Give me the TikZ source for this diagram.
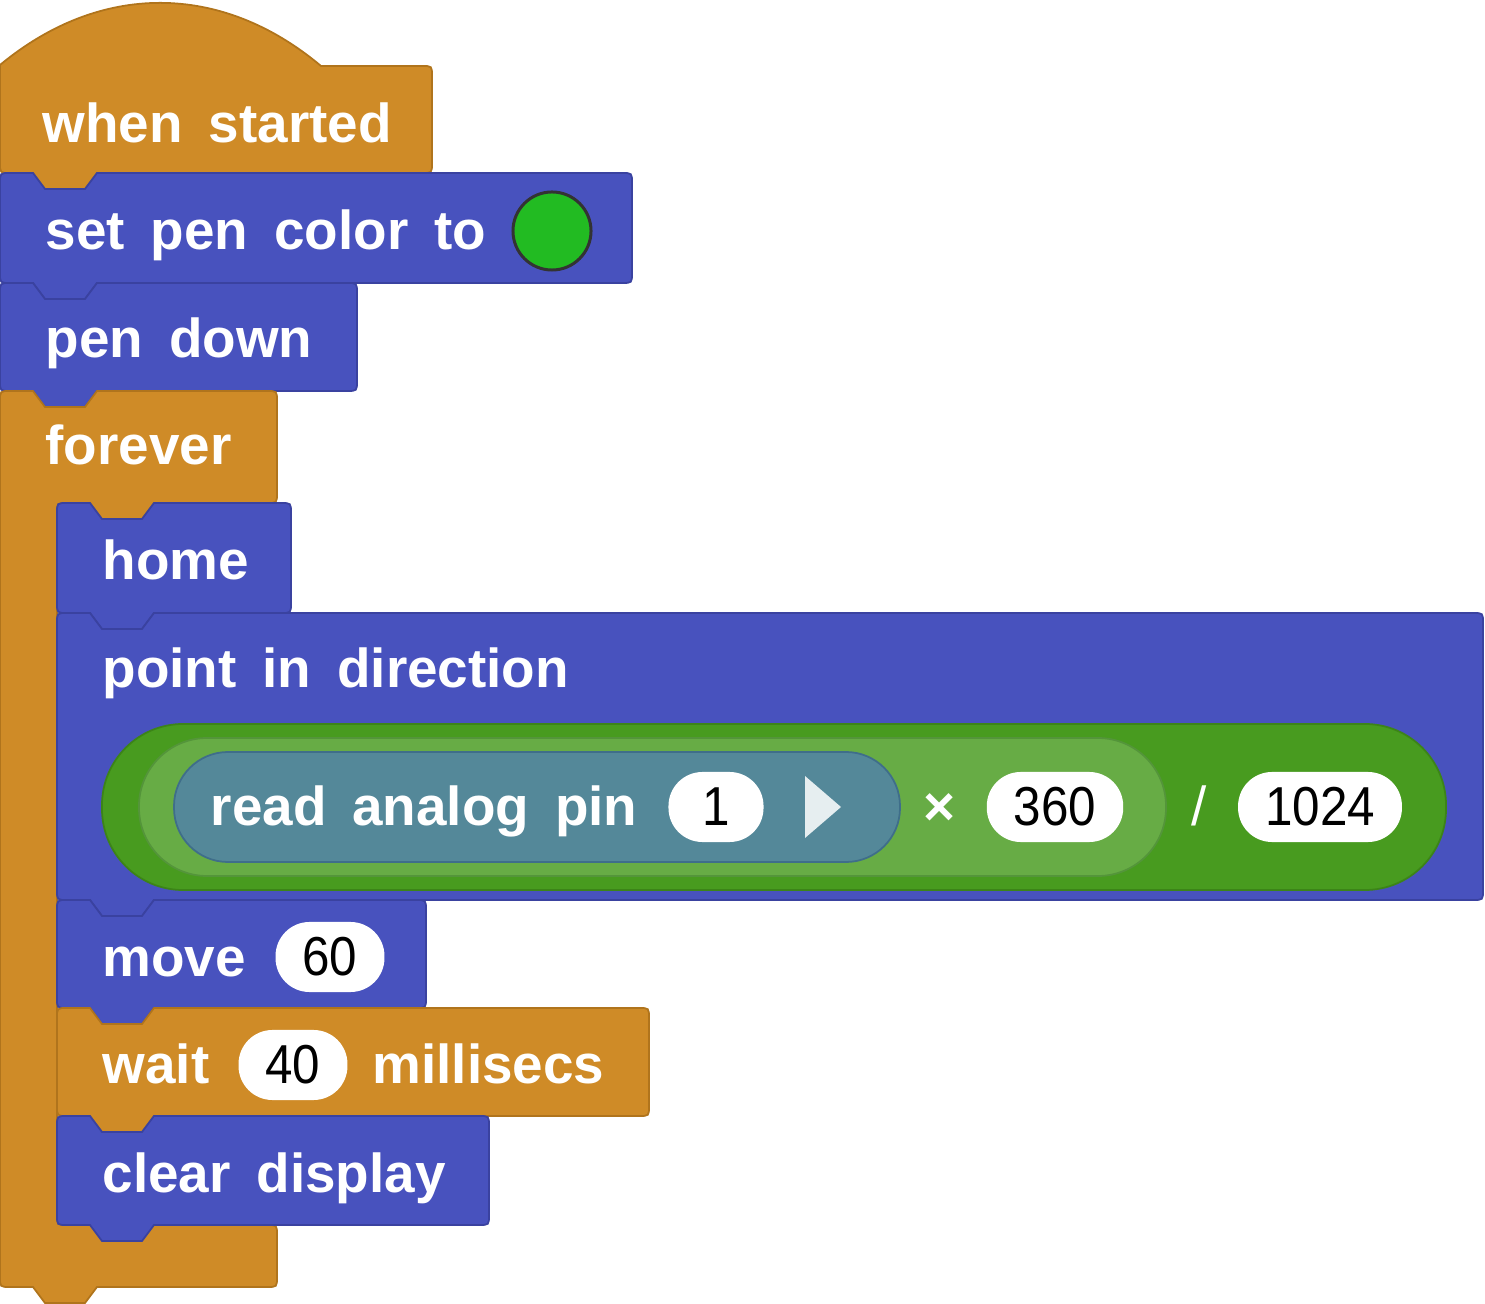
\documentclass[tikz,border=0pt]{standalone}
\usepackage{fontspec}
\setmainfont{Liberation Sans}[WordSpace=1.7]
\newfontfamily\numfont{Liberation Sans}[FakeStretch=0.9]
\usetikzlibrary{positioning,shapes}
\definecolor{ctrlorange}{HTML}{CF8B27}
\definecolor{ctrledge}{HTML}{B0741C}
\definecolor{penblue}{HTML}{4852BE}
\definecolor{penedge}{HTML}{3A42A0}
\definecolor{opdark}{HTML}{489B1F}
\definecolor{opdarkedge}{HTML}{3C8418}
\definecolor{oplight}{HTML}{67AC45}
\definecolor{oplightedge}{HTML}{54953A}
\definecolor{iopin}{HTML}{548899}
\definecolor{iopinedge}{HTML}{3F6E8A}
\definecolor{penswatch}{HTML}{22BB22}
\definecolor{arrowgrey}{HTML}{E6EEF0}
\newcommand{\stackblk}[5]{%
  \draw[#5] (#1,#2+10) .. controls (#1,#2) .. (#1+10,#2)
    -- (#1+33,#2) -- (#1+45,#2+16) -- (#1+85,#2+16) -- (#1+97,#2)
    -- (#3-10,#2) .. controls (#3,#2) .. (#3,#2+10)
    -- (#3,#4-10) .. controls (#3,#4) .. (#3-10,#4)
    -- (#1+97,#4) -- (#1+85,#4+16) -- (#1+45,#4+16) -- (#1+33,#4)
    -- (#1+10,#4) .. controls (#1,#4) .. (#1,#4-10) -- cycle;}
\begin{document}
\begin{tikzpicture}[x=0.01cm,y=-0.01cm,
    ctrlblk/.style={fill=ctrlorange,draw=ctrledge,line width=0.5pt},
    penblk/.style={fill=penblue,draw=penedge,line width=0.5pt},
    lbl/.style={anchor=base west,inner sep=0pt,text=white,font=\fontsize{15.6}{18}\selectfont\bfseries},
    numpill/.style={fill=white,rounded corners=0.34cm,minimum height=0.7cm,inner xsep=0.27cm,inner ysep=0pt,font=\fontsize{15.6}{18}\selectfont\numfont}]
    \useasboundingbox (0,0) rectangle (1485,1304);

    \draw[ctrlblk] (0,65) .. controls (100,-18) and (221,-18) .. (321,66) -- (422,66)
    .. controls (432,66) .. (432,76) -- (432,163) .. controls (432,173) .. (422,173)
    -- (97,173) -- (85,189) -- (45,189) -- (33,173) -- (10,173) .. controls (0,173) .. (0,163) -- cycle;
    \stackblk{0}{173}{632}{283}{penblk}
    \stackblk{0}{283}{357}{391}{penblk}

    \draw[ctrlblk] (0,401) .. controls (0,391) .. (10,391) -- (33,391) -- (45,407) -- (85,407) -- (97,391)
    -- (267,391) .. controls (277,391) .. (277,401) -- (277,493) .. controls (277,503) .. (267,503)
    -- (154,503) -- (142,519) -- (102,519) -- (90,503) -- (67,503) .. controls (57,503) .. (57,513)
    -- (57,1215) .. controls (57,1225) .. (67,1225) -- (267,1225) .. controls (277,1225) .. (277,1235)
    -- (277,1277) .. controls (277,1287) .. (267,1287) -- (97,1287) -- (85,1303) -- (45,1303)
    -- (33,1287) -- (10,1287) .. controls (0,1287) .. (0,1277) -- cycle;

    \stackblk{57}{503}{291}{613}{penblk}
    \stackblk{57}{613}{1483}{900}{penblk}
    \stackblk{57}{900}{426}{1008}{penblk}
    \stackblk{57}{1008}{649}{1116}{ctrlblk}
    \stackblk{57}{1116}{489}{1225}{penblk}

    \draw[fill=opdark,draw=opdarkedge,line width=0.5pt,rounded corners=0.81cm] (102,724) rectangle (1446,890);
    \draw[fill=oplight,draw=oplightedge,line width=0.5pt,rounded corners=0.68cm] (139,738) rectangle (1166,876);
    \draw[fill=iopin,draw=iopinedge,line width=0.5pt,rounded corners=0.54cm] (174,752) rectangle (900,862);

    \node[lbl] (whenlbl) at (42,143) {when started};
    \node[lbl] (setpenlbl) at (45,250) {set pen color to};
    \node[circle,fill=penswatch,draw=black!80,line width=0.85pt,minimum size=0.78cm,inner sep=0pt] (swatch) at (552,231) {};
    \node[lbl] (pendownlbl) at (45,358) {pen down};
    \node[lbl] (foreverlbl) at (45,465) {forever};
    \node[lbl] (homelbl) at (102,580) {home};
    \node[lbl] (pointlbl) at (102,688) {point in direction};
    \node[lbl] (readlbl) at (210,826) {read analog pin};
    \node[numpill,minimum width=0.95cm] (pinnum) at (716,807) {1};
    \fill[arrowgrey] (805,776) -- (841,807) -- (805,838) -- cycle;
    \node[lbl,anchor=center] (timessym) at (940,810) {×};
    \node[numpill] (degnum) at (1055,807) {360};
    \node[text=white,inner sep=0pt,font=\fontsize{15.6}{18}\selectfont] (divsym) at (1199,806) {/};
    \node[numpill] (rangenum) at (1320,807) {1024};
    \node[lbl] (movelbl) at (102,976) {move};
    \node[numpill] (stepnum) at (330,957) {60};
    \node[lbl] (waitlbl) at (102,1083) {wait};
    \node[numpill] (delaynum) at (293,1065) {40};
    \node[lbl] (mslbl) at (372,1083) {millisecs};
    \node[lbl] (clearlbl) at (102,1192) {clear display};
\end{tikzpicture}
\end{document}
